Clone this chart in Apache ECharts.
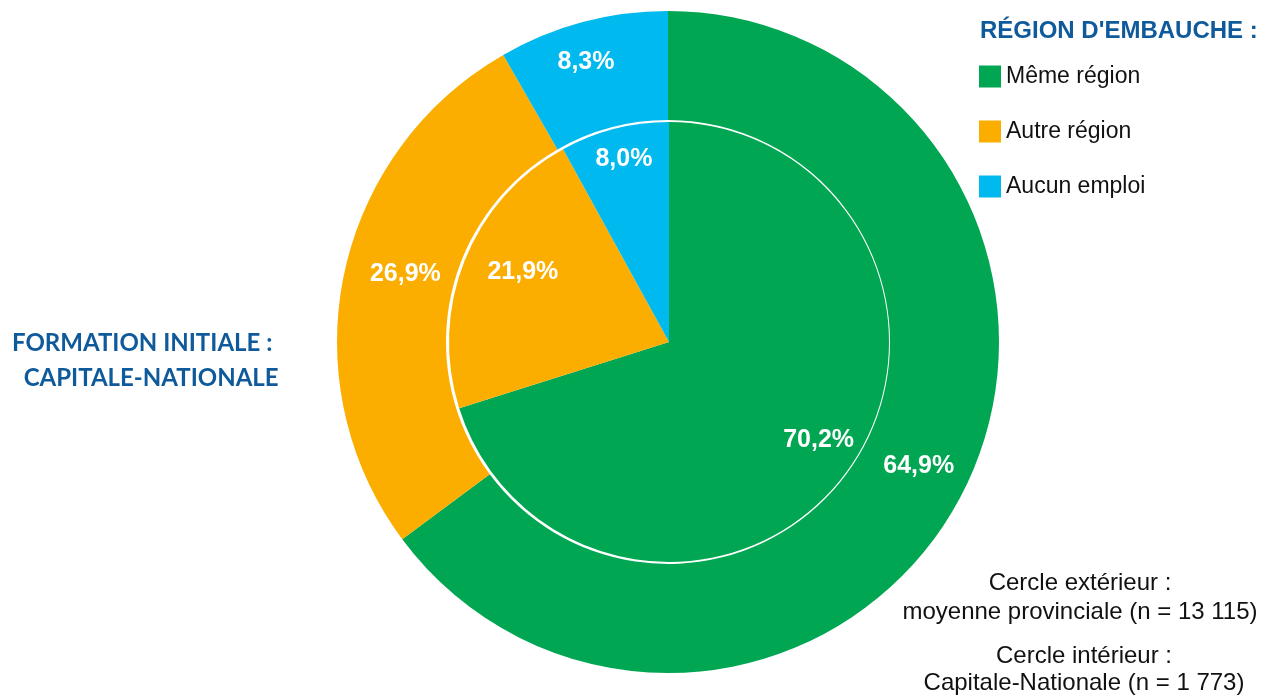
<!DOCTYPE html>
<html>
<head>
<meta charset="utf-8">
<script src="https://cdn.jsdelivr.net/npm/echarts@6/dist/echarts.min.js"></script>
<style>
  html, body { margin: 0; padding: 0; background: #fff; }
  #chart { width: 1264px; height: 696px; }
</style>
</head>
<body>
<div id="chart"></div>
<script>
// categories and values (% share)
var categories = ['Même région', 'Autre région', 'Aucun emploi'];
var colors = ['#00A651', '#FBAE00', '#00B9EE'];
var outerValues = [64.9, 26.9, 8.3];   // moyenne provinciale
var innerValues = [70.2, 21.9, 8.0];   // Capitale-Nationale

// small label nudges (px) to match the original label placement
var outerNudge = [[1, -1], [11, -11], [-10, -10]];
var innerNudge = [[0, -12], [26, -1], [1, -3]];

var fmt = function (p) {
  return p.value.toFixed(1).replace('.', ',') + '%';
};

function toData(values) {
  return values.map(function (v, i) {
    return { name: categories[i], value: v, itemStyle: { color: colors[i] } };
  });
}

function nudge(arr) {
  return function (p) {
    var n = arr[p.dataIndex];
    return { dx: n[0], dy: n[1] };
  };
}

var labelStyle = {
  show: true,
  position: 'inside',
  formatter: fmt,
  color: '#fff',
  fontFamily: '"Liberation Sans", Arial, sans-serif',
  fontWeight: 'bold',
  fontSize: 25
};

var chart = echarts.init(document.getElementById('chart'));
chart.setOption({
  animation: false,
  legend: {
    orient: 'vertical',
    left: 979,
    top: 65,
    padding: 0,
    itemWidth: 22,
    itemHeight: 22,
    itemGap: 32,
    icon: 'rect',
    data: categories,
    textStyle: {
      fontFamily: '"Liberation Sans", Arial, sans-serif',
      fontSize: 23,
      lineHeight: 22,
      color: '#111'
    }
  },
  graphic: [
    {
      type: 'text', left: 980, top: 19,
      style: {
        text: "RÉGION D'EMBAUCHE :",
        font: 'bold 24px "Liberation Sans", Arial, sans-serif',
        fill: '#0F5A9B'
      }
    },
    {
      type: 'text', left: 12, top: 326,
      style: {
        text: 'FORMATION INITIALE :\n  CAPITALE-NATIONALE',
        font: 'bold 24px Lato, sans-serif',
        lineHeight: 35,
        fill: '#0F5A9B'
      }
    },
    {
      type: 'text', x: 1080, y: 569,
      style: {
        text: 'Cercle extérieur :\nmoyenne provinciale (n = 13 115)',
        font: '24px "Liberation Sans", Arial, sans-serif',
        align: 'center',
        lineHeight: 29,
        fill: '#111'
      }
    },
    {
      type: 'text', x: 1084, y: 643,
      style: {
        text: 'Cercle intérieur :\nCapitale-Nationale (n = 1 773)',
        font: '24px "Liberation Sans", Arial, sans-serif',
        align: 'center',
        lineHeight: 27,
        fill: '#111'
      }
    }
  ],
  series: [
    {
      name: 'Cercle extérieur',
      type: 'pie',
      center: [668, 342],
      radius: [222, 331],
      startAngle: 90,
      clockwise: true,
      silent: true,
      label: labelStyle,
      labelLine: { show: false },
      labelLayout: nudge(outerNudge),
      data: toData(outerValues)
    },
    {
      name: 'Cercle intérieur',
      type: 'pie',
      center: [669, 342],
      radius: [0, 220],
      startAngle: 90,
      clockwise: true,
      silent: true,
      label: { show: false },
      labelLine: { show: false },
      data: toData(innerValues)
    },
    {
      // label carrier for the inner circle, placed toward its rim
      name: 'Étiquettes intérieures',
      type: 'pie',
      center: [669, 342],
      radius: [145, 220],
      startAngle: 90,
      clockwise: true,
      silent: true,
      legendHoverLink: false,
      label: labelStyle,
      labelLine: { show: false },
      labelLayout: nudge(innerNudge),
      data: innerValues.map(function (v, i) {
        return { name: categories[i], value: v, itemStyle: { color: 'rgba(0,0,0,0)' } };
      })
    }
  ]
});
</script>
</body>
</html>
